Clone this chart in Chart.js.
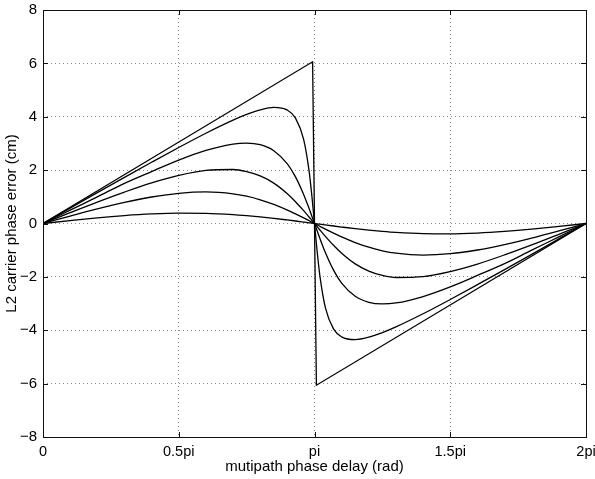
<!DOCTYPE html>
<html>
<head>
<meta charset="utf-8">
<script src="https://cdn.jsdelivr.net/npm/chart.js@4"></script>
<style>
  body { margin: 0; background: #fff; }
  #wrap { width: 595px; height: 479px; }
</style>
</head>
<body>
<div id="wrap"><canvas id="phaseErr" width="595" height="479"></canvas></div>
<script>
'use strict';

// x축: 다중경로 위상 지연 (pi 단위)
const phase = [0, 0.1, 0.2, 0.3, 0.4, 0.5, 0.6, 0.7, 0.75, 0.8, 0.85, 0.9, 0.93, 0.96, 0.98, 0.99, 1.0,
    1.01, 1.02, 1.04, 1.07, 1.1, 1.15, 1.2, 1.25, 1.3, 1.4, 1.5, 1.6, 1.7, 1.8, 1.9, 2.0];

// 반사파 세기별 L2 반송파 위상 오차 (cm)
const err01 = [0, 0.110, 0.212, 0.296, 0.357, 0.388, 0.381, 0.334, 0.295, 0.248, 0.193, 0.132, 0.094, 0.054, 0.027, 0.013, 0,
    -0.013, -0.027, -0.054, -0.094, -0.132, -0.193, -0.248, -0.295, -0.334, -0.381, -0.388, -0.357, -0.296, -0.212, -0.110, 0];
const err03 = [0, 0.280, 0.548, 0.791, 0.993, 1.132, 1.184, 1.114, 1.023, 0.889, 0.714, 0.502, 0.358, 0.208, 0.105, 0.052, 0,
    -0.052, -0.105, -0.208, -0.358, -0.502, -0.714, -0.889, -1.023, -1.114, -1.184, -1.132, -0.993, -0.791, -0.548, -0.280, 0];
const err05 = [0, 0.405, 0.802, 1.177, 1.521, 1.802, 1.991, 2.023, 1.944, 1.782, 1.512, 1.113, 0.815, 0.480, 0.243, 0.122, 0,
    -0.122, -0.243, -0.480, -0.815, -1.113, -1.512, -1.782, -1.944, -2.023, -1.991, -1.802, -1.521, -1.177, -0.802, -0.405, 0];
const err07 = [0, 0.502, 0.998, 1.504, 1.946, 2.374, 2.736, 2.978, 3.014, 2.951, 2.726, 2.232, 1.745, 1.087, 0.563, 0.284, 0,
    -0.284, -0.563, -1.087, -1.745, -2.232, -2.726, -2.951, -3.014, -2.978, -2.736, -2.374, -1.946, -1.504, -0.998, -0.502, 0];
const err09 = [0, 0.578, 1.156, 1.729, 2.293, 2.848, 3.383, 3.873, 4.087, 4.259, 4.351, 4.247, 3.948, 3.152, 1.971, 1.066, 0,
    -1.066, -1.971, -3.152, -3.948, -4.247, -4.351, -4.259, -4.087, -3.873, -3.383, -2.848, -2.293, -1.729, -1.156, -0.578, 0];

// 반사파 세기 1 (톱니 모양)
const sawPhase = [0, 0.993, 1.007, 2.0];
const sawErr = [0, 6.06, -6.06, 0];

// 눈금 라벨
const xTickVals = [0, 0.5, 1, 1.5, 2];
const xTickLabels = ['0', '0.5pi', 'pi', '1.5pi', '2pi'];
const yTickVals = [-8, -6, -4, -2, 0, 2, 4, 6, 8];

const FONT = 'Liberation Sans, Arial, Helvetica, sans-serif';

function toPoints(xs, ys) {
    return xs.map((x, i) => ({ x: x, y: ys[i] }));
}

function lineSet(xs, ys, smooth) {
    return {
        data: toPoints(xs, ys),
        borderColor: '#000',
        borderWidth: 1.3,
        pointRadius: 0,
        fill: false,
        tension: 0,
        cubicInterpolationMode: smooth ? 'monotone' : 'default'
    };
}

// 테두리 + 안쪽 눈금 (matlab 스타일)
const frameBox = {
    id: 'frameBox',
    afterDraw(chart) {
        const c = chart.ctx;
        const a = chart.chartArea;
        const xs = chart.scales.x;
        const ys = chart.scales.y;
        c.save();
        c.strokeStyle = '#111';
        c.lineWidth = 1;
        c.beginPath();
        xTickVals.forEach(v => {
            const px = Math.round(xs.getPixelForValue(v)) + 0.5;
            c.moveTo(px, a.bottom); c.lineTo(px, a.bottom - 5);
            c.moveTo(px, a.top); c.lineTo(px, a.top + 5);
        });
        yTickVals.forEach(v => {
            const py = Math.round(ys.getPixelForValue(v)) + 0.5;
            c.moveTo(a.left, py); c.lineTo(a.left + 5, py);
            c.moveTo(a.right, py); c.lineTo(a.right - 5, py);
        });
        c.stroke();
        c.strokeRect(Math.round(a.left) + 0.5, Math.round(a.top) + 0.5,
            Math.round(a.right - a.left), Math.round(a.bottom - a.top));
        c.restore();
    }
};

const ctx = document.getElementById('phaseErr');

const config = {
    type: 'line',
    data: {
        datasets: [
            lineSet(sawPhase, sawErr, false),
            lineSet(phase, err09, true),
            lineSet(phase, err07, true),
            lineSet(phase, err05, true),
            lineSet(phase, err03, true),
            lineSet(phase, err01, true)
        ]
    },
    options: {
        responsive: false,
        animation: false,
        layout: { padding: { top: 10, right: 9, left: 0, bottom: 0 } },
        plugins: { legend: { display: false }, tooltip: { enabled: false } },
        scales: {
            x: {
                type: 'linear',
                min: 0,
                max: 2,
                afterBuildTicks(scale) {
                    scale.ticks = xTickVals.map(v => ({ value: v }));
                },
                afterFit(scale) {
                    scale.height = 42;
                    scale.paddingLeft = 0;
                    scale.paddingRight = 0;
                },
                ticks: {
                    autoSkip: false,
                    maxRotation: 0,
                    padding: 6,
                    color: '#000',
                    font: { family: FONT, size: 14.5 },
                    callback: (v) => {
                        const i = xTickVals.indexOf(v);
                        return i < 0 ? '' : xTickLabels[i];
                    }
                },
                grid: { color: '#888', lineWidth: 1, drawTicks: false },
                border: { display: false, dash: [1, 3] },
                title: {
                    display: true,
                    text: 'mutipath phase delay (rad)',
                    color: '#000',
                    font: { family: FONT, size: 15 },
                    padding: { top: 0, bottom: 3 }
                }
            },
            y: {
                type: 'linear',
                min: -8,
                max: 8,
                afterBuildTicks(scale) {
                    scale.ticks = yTickVals.map(v => ({ value: v }));
                },
                afterFit(scale) {
                    scale.width = 43;
                    scale.paddingTop = 0;
                    scale.paddingBottom = 0;
                },
                ticks: {
                    padding: 6,
                    color: '#000',
                    font: { family: FONT, size: 15 },
                    callback: (v) => String(v).replace('-', '\u2212')
                },
                grid: { color: '#888', lineWidth: 1, drawTicks: false },
                border: { display: false, dash: [1, 3] },
                title: {
                    display: true,
                    text: 'L2 carrier phase error (cm)',
                    color: '#000',
                    font: { family: FONT, size: 15 },
                    padding: { top: 3, bottom: 0 }
                }
            }
        }
    },
    plugins: [frameBox]
};

// 차트 생성
const errChart = new Chart(ctx, config);
</script>
</body>
</html>
